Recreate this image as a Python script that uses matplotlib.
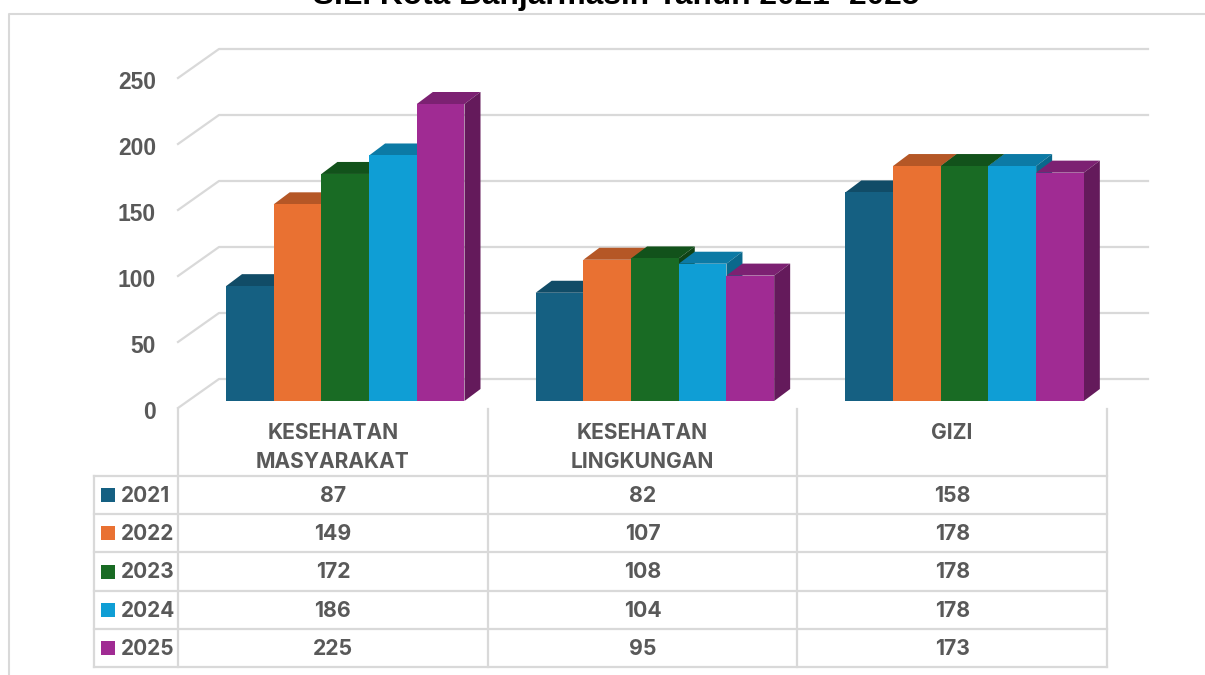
import matplotlib
matplotlib.use("Agg")
import matplotlib.pyplot as plt
from matplotlib.patches import Polygon, Rectangle

categories = ["KESEHATAN\nMASYARAKAT", "KESEHATAN\nLINGKUNGAN", "GIZI"]
years = ["2021", "2022", "2023", "2024", "2025"]
values_2021 = [87, 82, 158]
values_2022 = [149, 107, 178]
values_2023 = [172, 108, 178]
values_2024 = [186, 104, 178]
values_2025 = [225, 95, 173]
series = [values_2021, values_2022, values_2023, values_2024, values_2025]
y_ticks = [0, 50, 100, 150, 200, 250]

front = ["#156082", "#E97132", "#196B24", "#0F9ED5", "#A02B93"]
top = ["#114C67", "#B55726", "#12521B", "#0C7AA5", "#7C2172"]
side = ["#0D3C51", "#91471F", "#104316", "#0A688C", "#641A5B"]
grid = "#D9D9D9"
text = "#595959"

W, H = 1205, 675
PX_X = 929 / 3   # pixels per category
PX_Y = 1.32      # pixels per unit


def dx(px):
    return px / PX_X


def dy(px):
    return px / PX_Y


fig = plt.figure(figsize=(W / 100, H / 100), dpi=100)
ax = fig.add_axes([178 / W, 1 - 401 / H, 929 / W, 250 * PX_Y / H])
ax.set_xlim(0, 3)
ax.set_ylim(0, 250)
ax.axis("off")
kw = dict(clip_on=False)

# outer chart frame
ax.plot([dx(8.5 - 178), dx(8.5 - 178), dx(1205 - 178)], [dy(401 - 675), dy(401 - 14), dy(401 - 14)],
        color=grid, lw=1.5, **kw)

# gridlines: floor/wall in fake perspective
for t in y_ticks:
    ax.plot([0, dx(41), dx(970)], [t - dy(7), t + dy(22), t + dy(22)], color=grid, lw=1.6, zorder=1, **kw)
    ax.text(dx(-22), t - dy(11.5), str(t), ha="right", va="center", fontsize=16.5, fontweight="bold",
            color=text, family="Liberation Sans", **kw)

# bars, drawn left to right so each one covers the side of the previous
bar_w = 47.7 / PX_X
depth_x, depth_y = dx(16), dy(12)
offset = 48 / PX_X
for c in range(len(categories)):
    for s, vals in enumerate(series):
        v = vals[c]
        x0 = c + offset + s * bar_w
        x1 = x0 + bar_w
        z = 3 + s
        ax.add_patch(Polygon([(x0, v), (x1, v), (x1 + depth_x, v + depth_y), (x0 + depth_x, v + depth_y)],
                             fc=top[s], ec="none", zorder=z, **kw))
        ax.add_patch(Polygon([(x1, 0), (x1 + depth_x, depth_y), (x1 + depth_x, v + depth_y), (x1, v)],
                             fc=side[s], ec="none", zorder=z, **kw))
        ax.add_patch(Rectangle((x0, 0), bar_w, v, fc=front[s], ec="none", zorder=z + 0.5, **kw))

# data table below the plot
row_px = [476, 514, 552, 591, 629, 667]
col_px = [178, 488, 797, 1107]
for r in row_px:
    ax.plot([dx(94 - 178), 3], [dy(401 - r)] * 2, color=grid, lw=1.6, **kw)
for c in col_px:
    ax.plot([dx(c - 178)] * 2, [dy(401 - 409), dy(401 - 667)], color=grid, lw=1.6, **kw)
ax.plot([dx(94 - 178)] * 2, [dy(401 - 476), dy(401 - 667)], color=grid, lw=1.6, **kw)

font = dict(fontweight="bold", color=text, family="Inter")
for c, name in enumerate(categories):
    ax.text(c + 0.5, dy(401 - 423), name, ha="center", va="top", linespacing=1.55, fontsize=15.1, **font, **kw)
for s, year in enumerate(years):
    ymid = dy(401 - (row_px[s] + row_px[s + 1]) / 2)
    ax.add_patch(Rectangle((dx(101 - 178), ymid - dy(7)), dx(14), dy(14), fc=front[s], ec="none", **kw))
    ax.text(dx(120.5 - 178), ymid - dy(1), year, ha="left", va="center", fontsize=15, **font, **kw)
    for c in range(len(categories)):
        ax.text(c + 0.5, ymid - dy(1), str(series[s][c]), ha="center", va="center", fontsize=15.3, **font, **kw)

# title runs off the top edge, same as the source image
ax.text(1.5 - dx(26), dy(401 + 4), "S.L. Kota Banjarmasin Tahun 2021- 2025", ha="center", va="center",
        fontsize=22.8, fontweight="bold", color="black", family="Liberation Sans", **kw)

fig.savefig("out.png", dpi=100)
